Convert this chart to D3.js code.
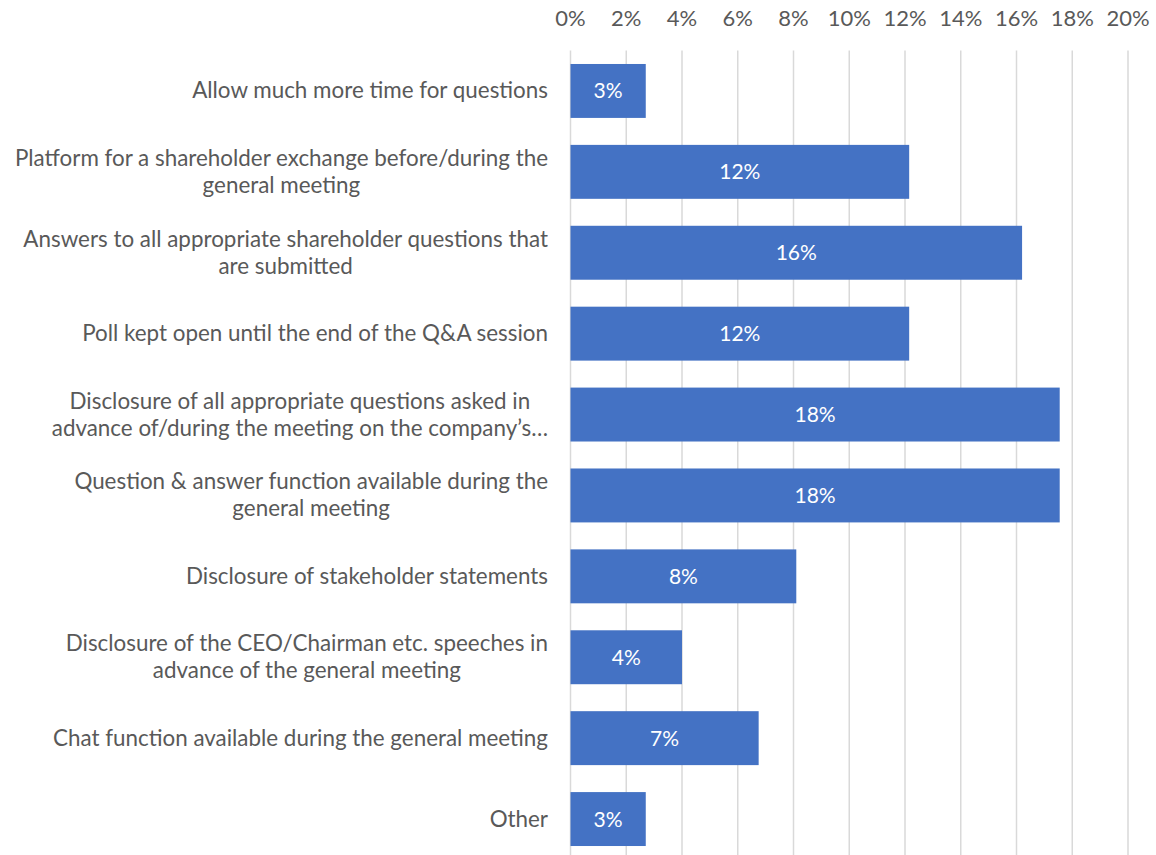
<!DOCTYPE html>
<html>
<head>
  <meta charset="utf-8">
  <script src="https://cdn.jsdelivr.net/npm/d3@7"></script>
  <style>
    body { margin: 0; background: #fff; }
    text { font-family: Lato, "Open Sans", sans-serif; }
  </style>
</head>
<body>
  <script>
    // categories (line breaks as in the original wrapping)
    const categories = [
      ['Allow much more time for questions'],
      ['Platform for a shareholder exchange before/during the', 'general meeting'],
      ['Answers to all appropriate shareholder questions that', 'are submitted'],
      ['Poll kept open until the end of the Q&A session'],
      ['Disclosure of all appropriate questions asked in', 'advance of/during the meeting on the company\u2019s\u2026'],
      ['Question & answer function available during the', 'general meeting'],
      ['Disclosure of stakeholder statements'],
      ['Disclosure of the CEO/Chairman etc. speeches in', 'advance of the general meeting'],
      ['Chat function available during the general meeting'],
      ['Other']
    ];
    const values = [2.7, 12.15, 16.2, 12.15, 17.55, 17.55, 8.1, 4.0, 6.75, 2.7];
    const ticks = [0, 2, 4, 6, 8, 10, 12, 14, 16, 18, 20];

    const width = 1156, height = 855;
    const svg = d3.select('body').append('svg')
      .attr('width', width)
      .attr('height', height);

    const x = d3.scaleLinear().domain([0, 20]).range([570.5, 1128]);
    const y = d3.scaleBand()
      .domain(d3.range(categories.length))
      .range([50.5, 859.5])
      .paddingInner(1 / 3)
      .paddingOuter(1 / 6);

    // gridlines
    svg.append('g').selectAll('line').data(ticks).join('line')
      .attr('x1', d => x(d)).attr('x2', d => x(d))
      .attr('y1', 50.5).attr('y2', height)
      .attr('stroke', '#d9d9d9').attr('stroke-width', 1.5);

    // top axis labels
    svg.append('g').selectAll('text').data(ticks).join('text')
      .attr('x', d => x(d)).attr('y', 26)
      .attr('text-anchor', 'middle')
      .attr('fill', '#595959').attr('font-size', 22)
      .text(d => d + '%');

    // bars
    svg.append('g').selectAll('rect').data(values).join('rect')
      .attr('x', x(0))
      .attr('y', (d, i) => y(i))
      .attr('width', d => x(d) - x(0))
      .attr('height', y.bandwidth())
      .attr('fill', '#4472c4');

    // value labels
    svg.append('g').selectAll('text').data(values).join('text')
      .attr('x', d => (x(0) + x(d)) / 2)
      .attr('y', (d, i) => y(i) + y.bandwidth() / 2 + 7.5)
      .attr('text-anchor', 'middle')
      .attr('fill', '#fff').attr('font-size', 21)
      .text(d => Math.round(d) + '%');

    // category labels: block right-aligned at 548, lines centred within block
    const labels = svg.append('g').selectAll('text').data(categories).join('text')
      .attr('fill', '#595959').attr('font-size', 22.4)
      .attr('text-anchor', 'middle');

    labels.each(function (lines, i) {
      const t = d3.select(this);
      const cy = y(i) + y.bandwidth() / 2;
      const lh = 27;
      const top = cy - (lines.length - 1) * lh / 2 + 7.5;
      lines.forEach((l, j) => {
        t.append('tspan').attr('y', top + j * lh).text(l);
      });
      // widest line sets the block, lines are centred in it
      let w = 0;
      t.selectAll('tspan').each(function () { w = Math.max(w, this.getComputedTextLength()); });
      t.selectAll('tspan').attr('x', 548 - w / 2);
    });
  </script>
</body>
</html>
